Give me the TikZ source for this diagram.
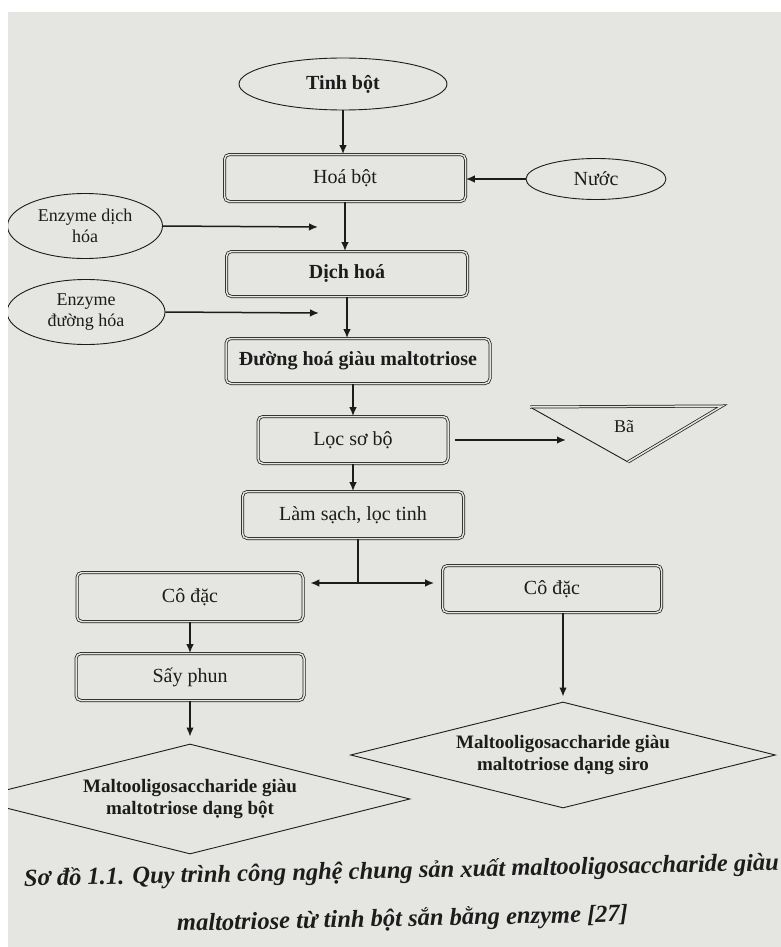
\documentclass[tikz,border=0pt]{standalone}
\usepackage{fontspec}
\setmainfont{Liberation Serif}
\usetikzlibrary{shapes.geometric,arrows.meta}

\definecolor{paper}{RGB}{229,229,225}
\definecolor{ink}{RGB}{28,28,28}

\begin{document}
\begin{tikzpicture}[>={Latex[length=9pt,width=7.5pt]}, x=1pt, y=-1pt, color=ink,
    box/.style={draw, line width=.75pt, double=paper, double distance=1.5pt,
        rounded corners=5pt, minimum width=#1, minimum height=47pt,
        font=\fontsize{20}{24}\selectfont},
    oval/.style={draw, line width=.9pt, ellipse, inner sep=0pt, align=center,
        font=\fontsize{18}{21}\selectfont},
    rhomb/.style={draw, line width=.9pt, diamond, aspect=4, inner sep=0pt,
        align=center, font=\bfseries\fontsize{19}{22}\selectfont},
    flow/.style={->, line width=1.5pt}]
\useasboundingbox (0,0) rectangle (781,947);
\fill[paper] (8,12) rectangle (781,947);
\clip (8,12) rectangle (781,947);

% main line
\node[oval, minimum width=208pt, minimum height=52pt,
    font=\bfseries\fontsize{20}{24}\selectfont] (tinh) at (343,84) {Tinh bột};
\node[box=241pt] (hoa) at (345,178) {Hoá bột};
\node[box=241pt, minimum height=45pt,
    font=\bfseries\fontsize{20}{24}\selectfont] (dich) at (347,274) {Dịch hoá};
\node[box=264pt, minimum height=45pt,
    font=\bfseries\fontsize{20}{24}\selectfont] (duong) at (358,361) {Đường hoá giàu maltotriose};
\node[box=190pt] (loc) at (353,440) {Lọc sơ bộ};
\node[box=221pt] (lam) at (353,515) {Làm sạch, lọc tinh};

% inputs
\node[oval, minimum width=140pt, minimum height=41pt,
    font=\fontsize{20}{24}\selectfont] (nuoc) at (596,179) {Nước};
\node[oval, minimum width=155pt, minimum height=65pt] (enzd) at (85,226) {Enzyme dịch\\hóa};
\node[oval, minimum width=158pt, minimum height=65pt] (enzg) at (86,312) {Enzyme\\đường hóa};

% waste
\coordinate (btl) at (530,407);
\coordinate (btr) at (722,406);
\coordinate (bbt) at (628,462);
\draw[line width=.9pt] (bbt)--(btl);
\draw[line width=.75pt, double=paper, double distance=1.5pt] (btl)--(btr)--(bbt);
\node[font=\fontsize{18}{21}\selectfont] (ba) at (624,427) {Bã};

% two branches
\node[box=226pt, minimum height=49pt] (cdt) at (190,597) {Cô đặc};
\node[box=228pt] (say) at (190,677) {Sấy phun};
\node[box=219pt] (cdp) at (552,589) {Cô đặc};
\node[rhomb, minimum width=440pt, minimum height=110pt] (bot) at (190,799)
    {Maltooligosaccharide giàu\\maltotriose dạng bột};
\node[rhomb, minimum width=425pt, minimum height=106pt] (siro) at (563,755)
    {Maltooligosaccharide giàu\\maltotriose dạng siro};

% connectors
\coordinate (ed) at (318,227);
\coordinate (eg) at (319,313);
\coordinate (bain) at (566,440);
\coordinate (tach) at (358,583);
\draw[flow] (tinh.south)--(tinh.south |- hoa.north);
\draw[flow] (nuoc.west)--(nuoc.west -| hoa.east);
\draw[flow] (enzd.east)--(ed);
\draw[flow] (hoa.south)--(hoa.south |- dich.north);
\draw[flow] (enzg.east)--(eg);
\draw[flow] (dich.south)--(dich.south |- duong.north);
\draw[flow] (loc.north |- duong.south)--(loc.north);
\draw[flow] (loc.south)--(loc.south |- lam.north);
\draw[flow] ([xshift=7pt]loc.east)--(bain);
\draw[line width=1.5pt] (lam.south -| tach)--(tach);
\draw[flow] (tach)--([xshift=7pt]tach -| cdt.east);
\draw[flow] (tach)--([xshift=-8pt]tach -| cdp.west);
\draw[flow] (cdt.south)--(cdt.south |- say.north);
\draw[flow] (say.south)--([yshift=7pt]bot.north);
\draw[flow] (cdp.south -| siro.north)--([yshift=5pt]siro.north);

% caption
\node[font=\bfseries\itshape\fontsize{24.5}{48}\selectfont, rotate=1.2, align=center] (cap) at (402,896)
    {Sơ đồ 1.1. Quy trình công nghệ chung sản xuất maltooligosaccharide giàu\\
     maltotriose từ tinh bột sắn bằng enzyme [27]};
\end{tikzpicture}
\end{document}
